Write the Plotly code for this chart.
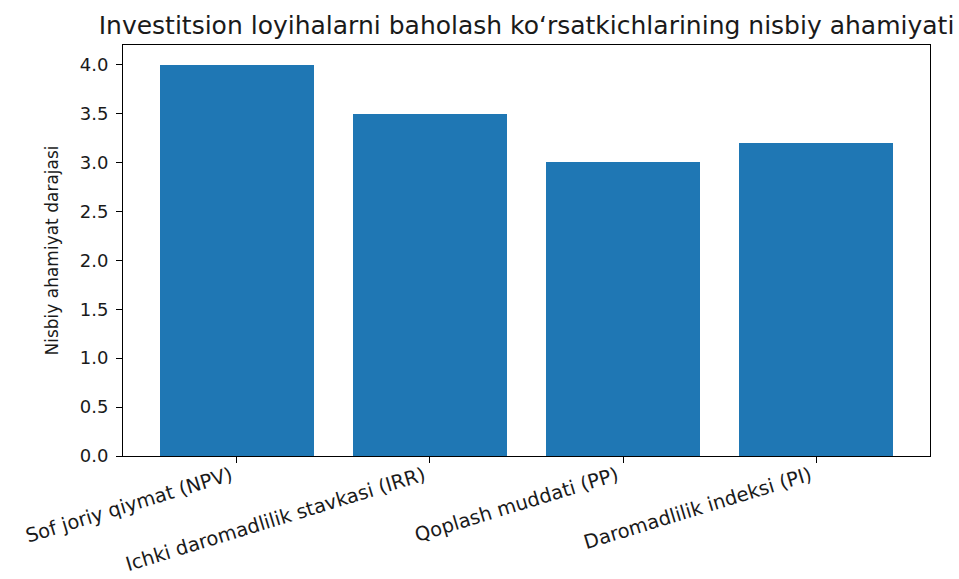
import plotly.graph_objects as go

categories = [
    "Sof joriy qiymat (NPV)",
    "Ichki daromadlilik stavkasi (IRR)",
    "Qoplash muddati (PP)",
    "Daromadlilik indeksi (PI)",
]
values = [4.0, 3.5, 3.0, 3.2]
title_text = "Investitsion loyihalarni baholash ko\u2018rsatkichlarining nisbiy ahamiyati"
y_label = "Nisbiy ahamiyat darajasi"
y_ticks = [0.0, 0.5, 1.0, 1.5, 2.0, 2.5, 3.0, 3.5, 4.0]

W, H = 959, 579
L, R, T, B = 123, 29, 45, 123

fig = go.Figure(
    go.Bar(
        x=list(range(len(categories))),
        y=values,
        width=0.8,
        marker=dict(color="#1f77b4", line=dict(width=0)),
    )
)

font_family = "DejaVu Sans"
fig.update_layout(
    width=W,
    height=H,
    margin=dict(l=L, r=R, t=T, b=B, autoexpand=False),
    paper_bgcolor="white",
    plot_bgcolor="white",
    showlegend=False,
    font=dict(family=font_family, color="#1a1a1a"),
    title=dict(
        text=title_text,
        font=dict(family=font_family, size=25, color="#1a1a1a"),
        x=(L + (W - L - R) / 2) / W,
        xanchor="center",
        xref="container",
        yref="container",
        y=1 - 25 / H,
        yanchor="middle",
    ),
    bargap=0,
)

fig.update_xaxes(
    range=[-0.59, 3.59],
    tickmode="array",
    tickvals=list(range(len(categories))),
    ticktext=categories,
    tickangle=-17,
    ticklabelstandoff=-6,
    ticklabelshift=-6,
    tickfont=dict(family=font_family, size=19.5, color="#1a1a1a"),
    ticks="outside",
    ticklen=6,
    tickwidth=1,
    tickcolor="black",
    showline=True,
    linecolor="black",
    linewidth=1,
    mirror=True,
    showgrid=False,
    zeroline=False,
)

fig.update_yaxes(
    range=[0, 4.2],
    tickmode="array",
    tickvals=y_ticks,
    ticktext=[f"{v:.1f}" for v in y_ticks],
    tickfont=dict(family=font_family, size=18, color="#1a1a1a"),
    ticklabelstandoff=4,
    ticks="outside",
    ticklen=6,
    tickwidth=1,
    tickcolor="black",
    showline=True,
    linecolor="black",
    linewidth=1,
    mirror=True,
    showgrid=False,
    zeroline=False,
    title=dict(text=y_label, font=dict(family=font_family, size=17, color="#1a1a1a"), standoff=16),
)

fig.write_html(
    "out.html",
    config={"displayModeBar": False},
    post_script="document.body.style.margin='0';",
)
